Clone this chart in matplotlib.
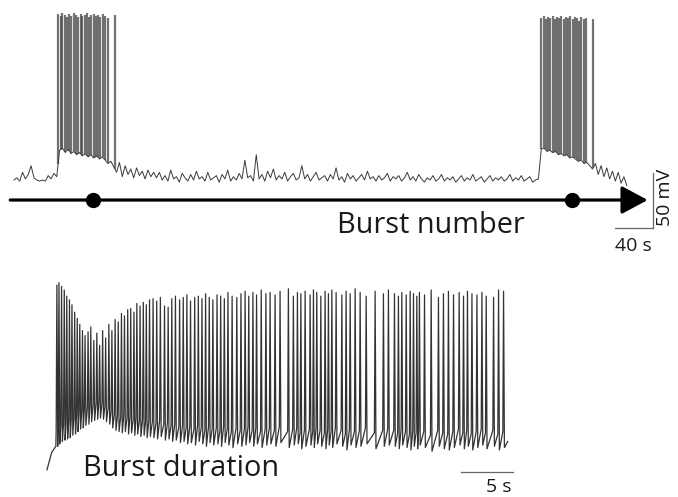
import numpy as np
import matplotlib.pyplot as plt

# ---- top trace: two bursts and the interburst interval (time in s, Vm in mV) ----
top_dt = 3.0
top_vm = [
    # before burst 1
    -65, -63, -66, -58, -64, -60, -52, -63, -65, -66, -65, -66, -61, -64, -59, -62,
    # burst 1 plateau
    -38, -36, -40, -37, -41, -39, -42, -40, -43, -41, -44, -42, -45, -43, -46, -44, -47, -50, -48, -53,
    # recovery after burst 1
    -58, -49, -62, -52, -60, -55, -63, -54, -61, -57, -64, -56, -62, -58,
    # interburst
    -63, -58, -65, -61, -66, -56, -64, -62, -67, -59, -63, -66,
    -60, -65, -57, -64, -62, -66, -58, -65, -63, -61, -67, -60,
    -64, -56, -66, -62, -65, -59, -64, -47, -63, -61, -66, -42,
    -64, -60, -66, -57, -63, -55, -65, -61, -64, -58, -66, -62,
    -59, -65, -63, -52, -64, -60, -66, -62, -58, -65, -63, -61,
    -66, -60, -64, -54, -65, -62, -67, -59, -64, -61, -66, -63,
    -60, -65, -57, -64, -62, -66, -61, -65, -63, -59, -66, -62,
    -64, -61, -66, -63, -58, -65, -62, -66, -60, -64, -67, -63,
    -65, -61, -66, -64, -60, -66, -63, -65, -62, -67, -64, -61,
    -66, -63, -65, -60, -66, -64, -62, -67, -64, -61, -66, -63,
    -65, -62, -66, -64, -60, -66, -63, -65, -61, -66, -64, -62, -67, -65, -64,
    # burst 2 plateau
    -37, -36, -39, -38, -40, -39, -42, -41, -43, -42, -45, -44, -46, -48, -47, -50, -49, -52,
    # recovery after burst 2
    -55, -50, -60, -52, -62, -54, -64, -57, -66, -58, -68, -62, -70,
]
top_spike_t = [46.5, 49, 51, 53.5, 56, 58, 60.5, 63, 65, 67.5, 70, 72, 74.5, 77, 79, 81.5,
               84, 86, 88.5, 91, 93.5, 96, 98.5, 106,
               555, 557.5, 560, 562, 564.5, 567, 569, 571.5, 574, 576, 578.5, 581, 583,
               585.5, 588, 590, 592.5, 595, 597, 599.5, 602, 609.5]
top_spike_pk = [86, 84, 87, 85, 83, 86, 84, 87, 85, 83, 86, 84, 85, 87, 83, 85,
                86, 84, 85, 83, 86, 84, 82, 85,
                82, 84, 81, 83, 82, 84, 81, 83, 82, 84, 81, 83, 82,
                84, 81, 83, 82, 80, 83, 81, 82, 81]
burst_marks = [83, 587]          # dots on the burst-number axis
arrow_vm = -83.2

# ---- bottom trace: one burst, expanded ----
bot_spike_t = [
    0.95, 1.15, 1.40, 1.66, 1.90, 2.16, 2.40, 2.66, 2.91, 3.15, 3.41, 3.66, 3.95, 4.21, 4.50, 4.79,
    5.06, 5.35, 5.64, 5.95, 6.24, 6.55, 6.85, 7.16, 7.45, 7.76, 8.05, 8.36, 8.64, 8.95, 9.26, 9.55, 9.86,
    10.20, 10.55, 10.90, 11.30, 11.65, 12.00, 12.35, 12.75, 13.10, 13.45, 13.80, 14.20, 14.55, 14.90,
    15.25, 15.60, 15.95, 16.35, 16.70, 17.05, 17.40, 17.80, 18.25, 18.65, 19.05, 19.40, 19.80, 20.15,
    20.60, 21.05,
    21.45, 21.93, 22.41, 23.21, 23.69, 24.08, 24.41, 24.82, 25.30, 25.62, 25.94, 26.33, 26.74, 27.06,
    27.39, 27.80, 28.35, 28.76, 29.15, 29.63, 30.11, 30.69, 31.55, 32.35, 32.83,
    33.41, 33.79, 34.12, 34.54, 34.92, 35.24, 35.56, 35.81, 36.30, 36.94, 37.64, 38.12, 38.60, 39.09,
    39.63, 40.05, 40.43, 40.86, 41.34, 41.82, 42.23, 42.94, 43.42, 43.90,
]
bot_spike_pk = [
    89, 91, 88, 85, 80, 77, 73, 67, 62, 57, 52, 48, 51, 55, 44, 50,
    40, 52, 46, 57, 52, 61, 59, 66, 64, 69, 70, 67, 74, 72, 75, 73, 77,
    78, 76, 79, 72, 71, 78, 80, 77, 79, 81, 76, 79, 80, 78,
    82, 79, 77, 81, 80, 78, 83, 80, 79, 82, 84, 80, 83, 81,
    85, 82,
    83, 81, 84, 86, 80, 83, 82, 84, 81, 85, 83, 80, 84, 82,
    85, 83, 81, 84, 82, 86, 83, 80, 84, 82, 85,
    82, 80, 83, 81, 84, 82, 80, 83, 81, 85, 79, 82, 84, 81,
    83, 80, 84, 82, 81, 83, 80, 79, 85, 84,
]
bot_spike_ahp = [
    -42, -40, -38, -37, -36, -35, -33, -32, -30, -28, -27, -25, -24, -22, -21, -20,
    -19, -20, -22, -24, -27, -29, -30, -31, -30, -32, -31, -33, -32, -34, -33, -35, -34,
    -35, -36, -34, -37, -36, -38, -37, -39, -38, -40, -39, -41, -38, -40,
    -42, -39, -41, -40, -42, -39, -41, -43, -40, -42, -41, -39, -42, -40,
    -43, -41,
    -40, -42, -39, -43, -41, -40, -44, -42, -41, -43, -40, -42, -44, -41,
    -43, -40, -42, -45, -41, -43, -42, -40, -44, -42, -41,
    -42, -44, -41, -43, -45, -42, -44, -41, -43, -46, -42, -44, -45, -43,
    -41, -44, -42, -45, -43, -41, -44, -42, -45, -43,
]
bot_start = [(0.0, -61), (0.45, -47), (0.85, -42)]
bot_end = (44.3, -38)

trace_col = '#333333'
bar_col = '#666666'
txt_col = '#1a1a1a'
font = ['Open Sans', 'DejaVu Sans']

fig = plt.figure(figsize=(6.78, 4.97), dpi=100)
W, H = 678, 497

# top panel: 1 px = 40/38 s horizontally, 50/55 mV vertically
ax1 = fig.add_axes([0, 1 - 260 / H, 1, 260 / H])
sx, sy = 40 / 38, 50 / 55
ax1.set_xlim(-14 * sx, (W - 14) * sx)
ax1.set_ylim(-65 - 80 * sy, -65 + 180 * sy)
ax1.axis('off')

t_top = np.arange(len(top_vm)) * top_dt
ax1.plot(t_top, top_vm, color='#3a3a3a', lw=0.7)
bases = np.interp(top_spike_t, t_top, top_vm)
ax1.vlines(top_spike_t, bases, top_spike_pk, color='#444444', lw=1.6, alpha=0.75)

ax1.annotate('', xy=(667, arrow_vm), xytext=(-4, arrow_vm),
             arrowprops=dict(arrowstyle='-|>,head_length=0.8,head_width=0.43',
                             mutation_scale=20, lw=2.3, color='black',
                             shrinkA=0, shrinkB=0))
ax1.plot(burst_marks, [arrow_vm] * len(burst_marks), 'o', ms=10, color='black')
ax1.text(438.4, -113.5, 'Burst number', ha='center', va='baseline',
         fontsize=20.8, color=txt_col, family=font)

# 40 s / 50 mV scale bars
ax1.plot([632.6, 672.6], [-108.6, -108.6], color=bar_col, lw=0.9)
ax1.plot([672.6, 672.6], [-108.6, -58.6], color=bar_col, lw=0.9)
ax1.text(651.6, -129.5, '40 s', ha='center', va='baseline', fontsize=14, color=txt_col, family=font)
ax1.text(685.5, -81, '50 mV', ha='center', va='center', rotation=90,
         fontsize=14, color=txt_col, family=font)

# bottom panel: 5 s = 52 px
ax2 = fig.add_axes([0, 0, 1, 237 / H])
sx2, sy2 = 5 / 52, 0.8125
ax2.set_xlim(-47 * sx2, (W - 47) * sx2)
ax2.set_ylim(-45 - 47 * sy2, -45 + 190 * sy2)
ax2.axis('off')

bt, bv = [p[0] for p in bot_start], [p[1] for p in bot_start]
for t, pk, ahp in zip(bot_spike_t, bot_spike_pk, bot_spike_ahp):
    bt += [t - 0.07, t, t + 0.08]
    bv += [ahp + 13, pk, ahp]
bt.append(bot_end[0])
bv.append(bot_end[1])
ax2.plot(bt, bv, color=trace_col, lw=0.9)

ax2.text(3.46, -66.1, 'Burst duration', ha='left', va='baseline',
         fontsize=20.8, color=txt_col, family=font)
ax2.plot([39.8, 44.8], [-62.9, -62.9], color=bar_col, lw=0.9)
ax2.text(43.4, -79.5, '5 s', ha='center', va='baseline', fontsize=14, color=txt_col, family=font)

fig.savefig('out.png', dpi=100)
